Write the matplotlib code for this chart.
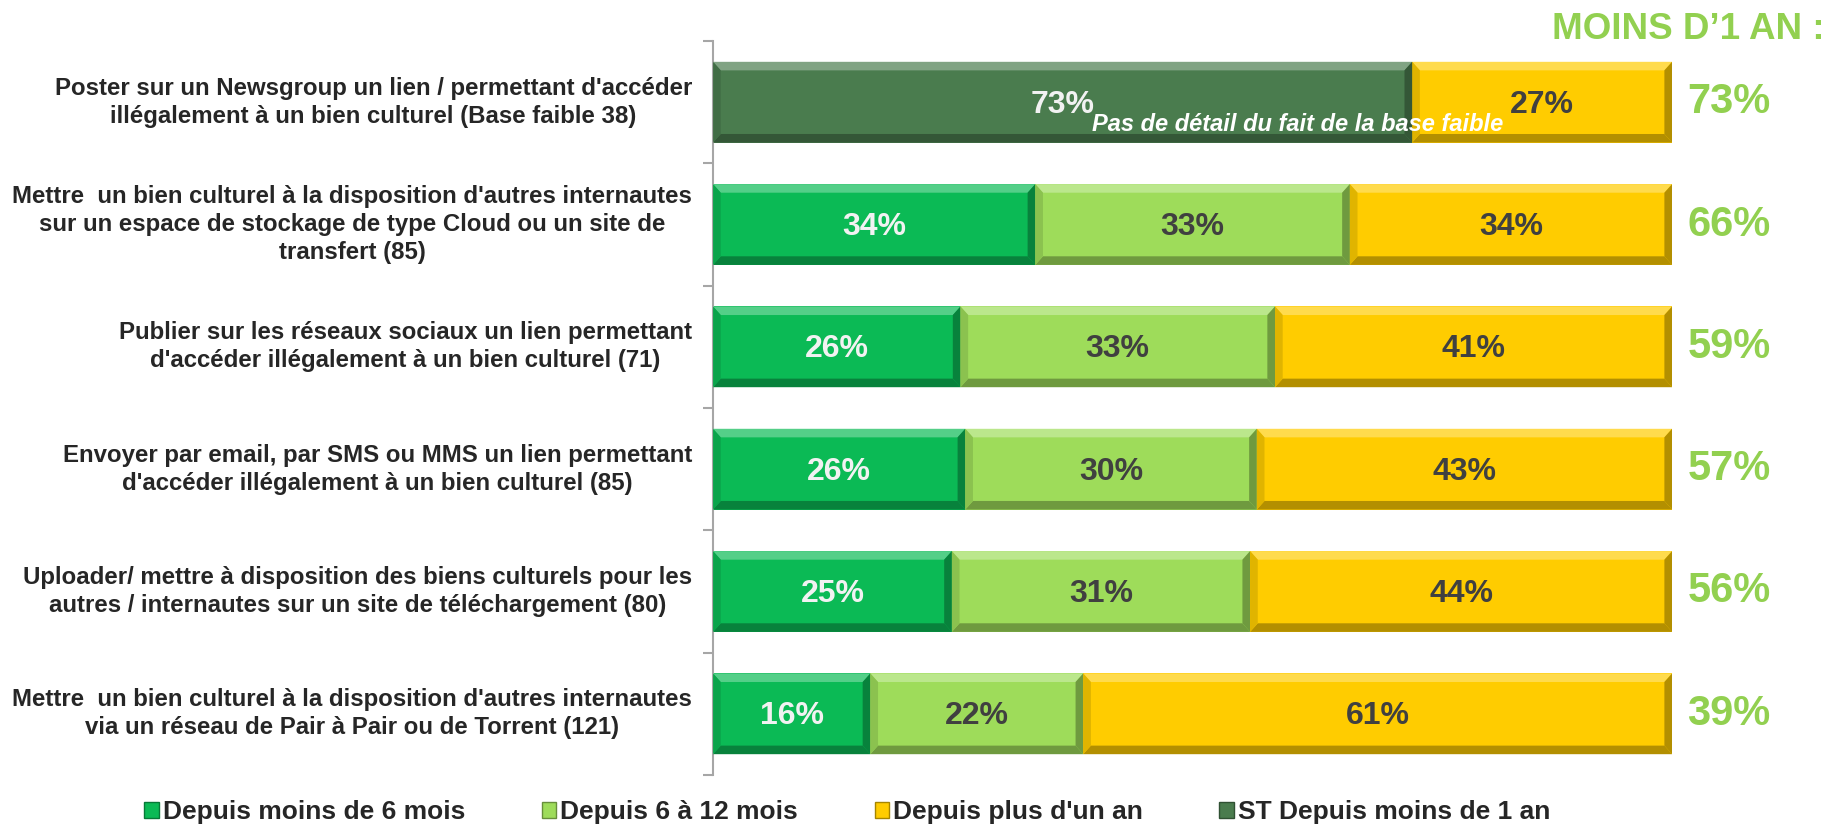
import matplotlib
matplotlib.use('Agg')
import matplotlib.pyplot as plt
import numpy as np
from matplotlib.patches import Polygon, Patch
from matplotlib.colors import to_rgb

plt.rcParams['font.family'] = ['Liberation Sans', 'DejaVu Sans']
plt.rcParams['font.weight'] = 'bold'

categories = [
    "Poster sur un Newsgroup un lien / permettant d'accéder\nillégalement à un bien culturel (Base faible 38)",
    "Mettre  un bien culturel à la disposition d'autres internautes\nsur un espace de stockage de type Cloud ou un site de\ntransfert (85)",
    "Publier sur les réseaux sociaux un lien permettant\nd'accéder illégalement à un bien culturel (71)",
    "Envoyer par email, par SMS ou MMS un lien permettant\nd'accéder illégalement à un bien culturel (85)",
    "Uploader/ mettre à disposition des biens culturels pour les\nautres / internautes sur un site de téléchargement (80)",
    "Mettre  un bien culturel à la disposition d'autres internautes\nvia un réseau de Pair à Pair ou de Torrent (121)",
]
# % of respondents; no detail for the first row (base too small)
depuis_6_mois = [np.nan, 33.6, 25.8, 26.3, 24.9, 16.4]
depuis_6_12_mois = [np.nan, 32.8, 32.8, 30.4, 31.1, 22.2]
depuis_plus_1_an = [27.1, 33.6, 41.4, 43.3, 44.0, 61.4]
st_moins_1_an = [72.9, 66.4, 58.6, 56.7, 56.0, 38.6]

series_names = ['Depuis moins de 6 mois', 'Depuis 6 à 12 mois',
                "Depuis plus d'un an", 'ST Depuis moins de 1 an']
colors = ['#0bba55', '#9edc5a', '#ffcc00', '#4a7c4e']
total_color = '#92d050'
note = 'Pas de détail du fait de la base faible'


def mix(c, other, t):
    c = np.array(to_rgb(c))
    return tuple(c + (np.array(other) - c) * t)


def bevel(ax, rect, color):
    # fake the bevelled look of the bars with four edge strips
    x0, y0 = rect.get_x(), rect.get_y()
    x1, y1 = x0 + rect.get_width(), y0 + rect.get_height()
    bx, by = 0.8, 0.07
    light = mix(color, (1, 1, 1), 0.3)
    dark = mix(color, (0, 0, 0), 0.3)
    side = mix(color, (0, 0, 0), 0.12)
    strips = [
        ([(x0, y0), (x1, y0), (x1 - bx, y0 + by), (x0 + bx, y0 + by)], light),
        ([(x0, y1), (x1, y1), (x1 - bx, y1 - by), (x0 + bx, y1 - by)], dark),
        ([(x0, y0), (x0 + bx, y0 + by), (x0 + bx, y1 - by), (x0, y1)], side),
        ([(x1, y0), (x1 - bx, y0 + by), (x1 - bx, y1 - by), (x1, y1)], dark),
    ]
    for pts, c in strips:
        ax.add_patch(Polygon(pts, closed=True, facecolor=c, edgecolor='none', zorder=3))


fig = plt.figure(figsize=(18.34, 8.27), dpi=100)
ax = fig.add_axes([0.3888, 0.0629, 0.5229, 0.8875])

y = np.arange(len(categories))
g = np.array(depuis_6_mois)
lg = np.array(depuis_6_12_mois)
yl = np.array(depuis_plus_1_an)
st = np.array(st_moins_1_an)
has_detail = ~np.isnan(g)
h = 0.66

bars = []
d = y[has_detail]
bars.append(ax.barh(d, g[has_detail], height=h, color=colors[0], zorder=2))
bars.append(ax.barh(d, lg[has_detail], left=g[has_detail], height=h, color=colors[1], zorder=2))
yl_left = np.where(has_detail, g + lg, st)
bars.append(ax.barh(y, yl, left=yl_left, height=h, color=colors[2], zorder=2))
s = y[~has_detail]
bars.append(ax.barh(s, st[~has_detail], height=h, color=colors[3], zorder=2))

for cont, c in zip(bars, colors):
    for rect in cont:
        bevel(ax, rect, c)

# value labels inside the segments
text_light = '#f2f2f2'
text_dark = '#404040'
for cont, tc in zip(bars, [text_light, text_dark, text_dark, text_light]):
    for rect in cont:
        w = rect.get_width()
        ax.text(rect.get_x() + w / 2, rect.get_y() + h / 2 + 0.02, f'{w:.0f}%',
                ha='center', va='center', fontsize=23, color=tc, zorder=5)

for i in s:
    ax.text(61, i + 0.18, note, ha='center', va='center', fontsize=17,
            style='italic', color='white', zorder=6)

# totals "moins d'1 an" on the right
for i, v in zip(y, st):
    ax.text(101.6, i, f'{v:.0f}%', ha='left', va='center', fontsize=30,
            color=total_color, clip_on=False)

for i, lab in zip(y, categories):
    ax.text(-2.2, i, lab, ha='right', va='center', multialignment='center',
            fontsize=17.3, color='#262626', linespacing=1.28)

ax.set_xlim(0, 100)
ax.set_ylim(len(categories) - 0.5, -0.5)
ax.set_xticks([])
ax.set_yticks(np.arange(-0.5, len(categories)))
ax.set_yticklabels([])
ax.tick_params(axis='y', length=7, width=1.5, color='#a6a6a6', direction='out')
for sp in ['top', 'right', 'bottom']:
    ax.spines[sp].set_visible(False)
ax.spines['left'].set_color('#a6a6a6')
ax.spines['left'].set_linewidth(1.5)

fig.text(0.995, 0.964, 'MOINS D\u20191 AN :', ha='right', va='center',
         fontsize=26.5, color=total_color)

handles = [Patch(facecolor=c, edgecolor=mix(c, (0, 0, 0), 0.35)) for c in colors]
fig.legend(handles, series_names, loc='center', bbox_to_anchor=(0.462, 0.018),
           ncol=4, frameon=False, handlelength=0.55, handleheight=0.55,
           handletextpad=0.15, columnspacing=2.9,
           prop={'size': 19, 'weight': 'bold'}, labelcolor='#262626')

fig.savefig('out.png', dpi=100)
